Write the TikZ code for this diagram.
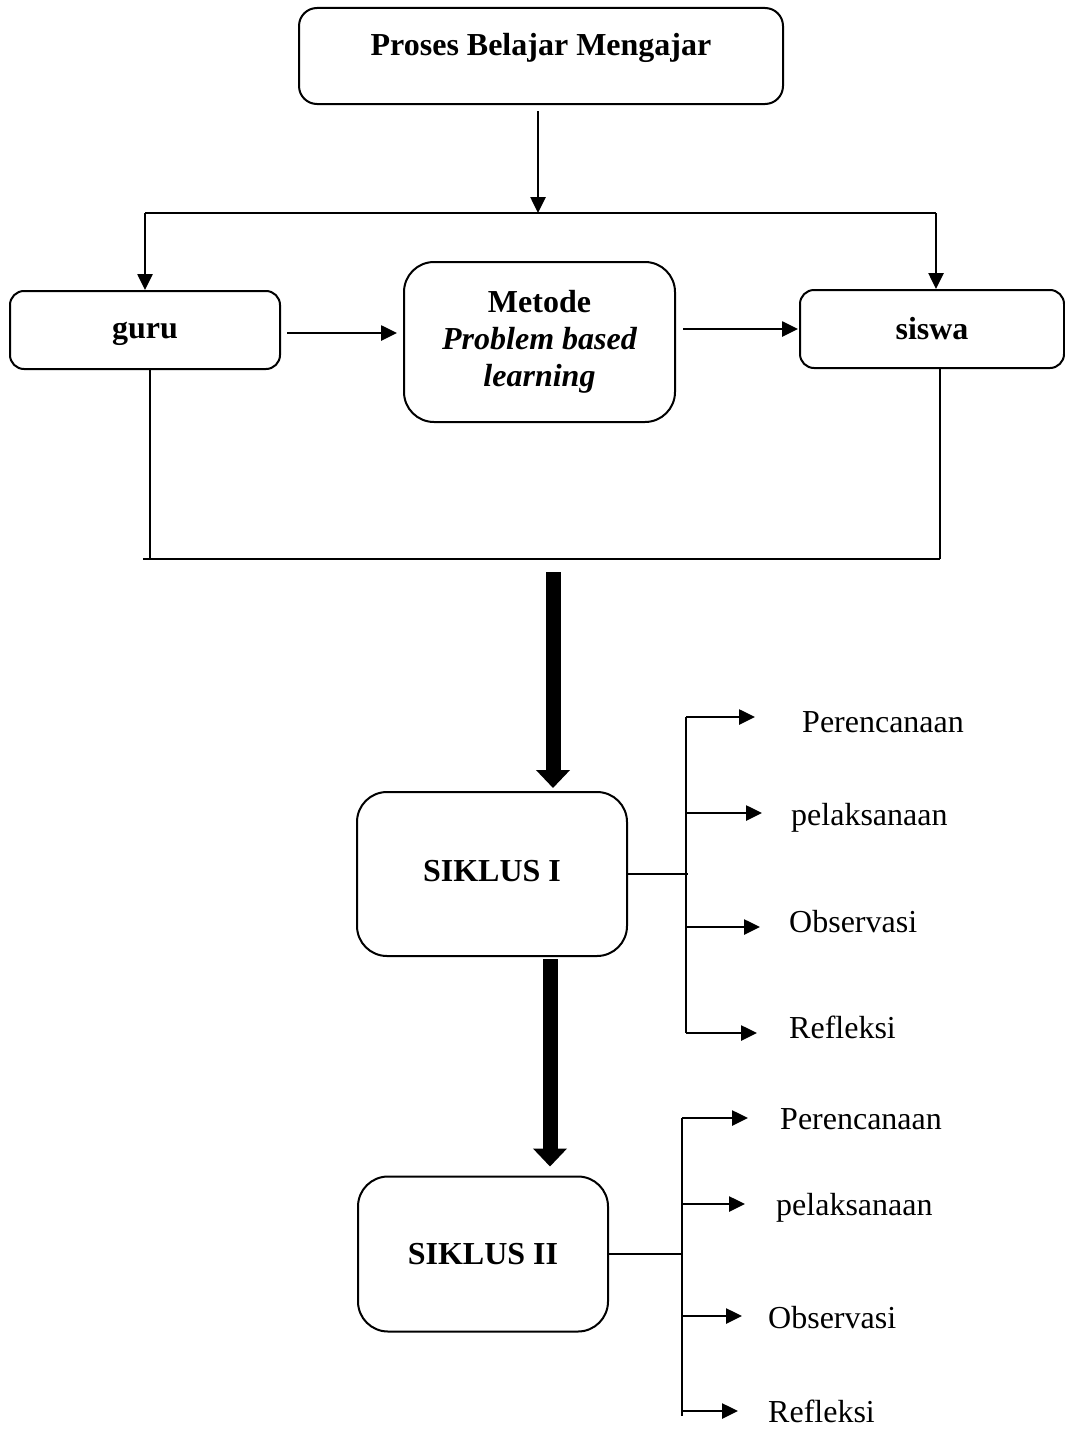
\documentclass[tikz,border=0pt]{standalone}
\usepackage{fontspec}
\setmainfont{Liberation Serif}
\usetikzlibrary{arrows.meta}
\tikzset{
	box/.style={draw, line width=2pt, rounded corners=18pt, inner sep=0pt, align=center, font=\fontsize{32}{37}\selectfont\bfseries},
	item/.style={inner sep=0pt, anchor=base west, font=\fontsize{32}{37}\selectfont},
	arr/.style={line width=2.6pt, -{Triangle[length=16pt,width=15pt]}},
	thinline/.style={line width=1.4pt},
	bigarr/.style={line width=15pt, -{Triangle[length=18pt,width=33pt]}}
}
\begin{document}
\begin{tikzpicture}[x=1pt,y=-1pt]
		\useasboundingbox ( 0, 0 ) rectangle ( 1065, 1429 );
		\node [box, minimum width=484, minimum height=96, text height=22pt, text depth=22pt] (proses) at ( 541, 56 ) {Proses Belajar Mengajar};
		\node [box, minimum width=270, minimum height=78, rounded corners=14pt, text depth=0pt] (guru) at ( 145, 330 ) {guru};
		\node [box, minimum width=271, minimum height=160, rounded corners=30pt] (metode) at ( 539.5, 342 ) {Metode\\\itshape Problem based\\\itshape learning};
		\node [box, minimum width=264, minimum height=78, rounded corners=14pt] (siswa) at ( 932, 329 ) {siswa};
		\node [box, minimum width=270, minimum height=164, rounded corners=30pt, text depth=6pt] (siklusA) at ( 492, 874 ) {SIKLUS I};
		\node [box, minimum width=250, minimum height=155, rounded corners=30pt] (siklusB) at ( 483, 1254 ) {SIKLUS II};
		\coordinate (busM) at ( 538, 213 );
		\coordinate (busL) at ( 145, 213 );
		\coordinate (busR) at ( 936, 213 );
		\draw [arr, shorten <=6pt] (busM |- proses.south) -- (busM);
		\draw [thinline] (busL) -- (busR);
		\draw [arr] (busL) -- (guru.north -| busL);
		\draw [arr] (busR) -- (siswa.north -| busR);
		\draw [arr, shorten <=6pt, shorten >=6pt] ([yshift=-3pt]guru.east) -- ([yshift=-3pt]guru.east -| metode.west);
		\draw [arr, shorten <=7pt, shorten >=1pt] (metode.east |- siswa.west) -- (siswa.west);
		\coordinate (colL) at ( 150, 559 );
		\coordinate (colR) at ( 940, 559 );
		\draw [thinline] (guru.south -| colL) -- (colL);
		\draw [thinline] (siswa.south -| colR) -- (colR);
		\draw [thinline] ([xshift=-7pt]colL) -- (colR);
		\coordinate (bigA) at ( 553, 572 );
		\draw [bigarr, shorten >=3pt] (bigA) -- (siklusA.north -| bigA);
		\coordinate (bigB) at ( 550, 959 );
		\draw [bigarr, shorten >=9pt] (bigB) -- (siklusB.north -| bigB);
		\coordinate (spineA) at ( 688, 874 );
		\coordinate (a1) at ( 686, 717 );
		\coordinate (a2) at ( 686, 813 );
		\coordinate (a3) at ( 686, 927 );
		\coordinate (a4) at ( 686, 1033 );
		\draw [thinline] (siklusA.east) -- (spineA);
		\draw [thinline] (a1) -- (a4);
		\node [item] (pA) at ( 802, 732 ) {Perencanaan};
		\node [item] (lA) at ( 791, 825 ) {pelaksanaan};
		\node [item] (oA) at ( 789, 932 ) {Observasi};
		\node [item] (rA) at ( 789, 1038 ) {Refleksi};
		\draw [arr, shorten >=47pt] (a1) -- (pA.west |- a1);
		\draw [arr, shorten >=29pt] (a2) -- (lA.west |- a2);
		\draw [arr, shorten >=29pt] (a3) -- (oA.west |- a3);
		\draw [arr, shorten >=32pt] (a4) -- (rA.west |- a4);
		\coordinate (spineB) at ( 682, 1254 );
		\coordinate (b1) at ( 682, 1118 );
		\coordinate (b2) at ( 682, 1204 );
		\coordinate (b3) at ( 682, 1316 );
		\coordinate (b4) at ( 682, 1411 );
		\draw [thinline] (siklusB.east) -- (spineB);
		\draw [thinline] (b1) -- ([yshift=-5pt]b4);
		\node [item] (pB) at ( 780, 1129 ) {Perencanaan};
		\node [item] (lB) at ( 776, 1215 ) {pelaksanaan};
		\node [item] (oB) at ( 768, 1328 ) {Observasi};
		\node [item] (rB) at ( 768, 1422 ) {Refleksi};
		\draw [arr, shorten >=32pt] (b1) -- (pB.west |- b1);
		\draw [arr, shorten >=31pt] (b2) -- (lB.west |- b2);
		\draw [arr, shorten >=26pt] (b3) -- (oB.west |- b3);
		\draw [arr, shorten >=30pt] (b4) -- (rB.west |- b4);
\end{tikzpicture}
\end{document}
